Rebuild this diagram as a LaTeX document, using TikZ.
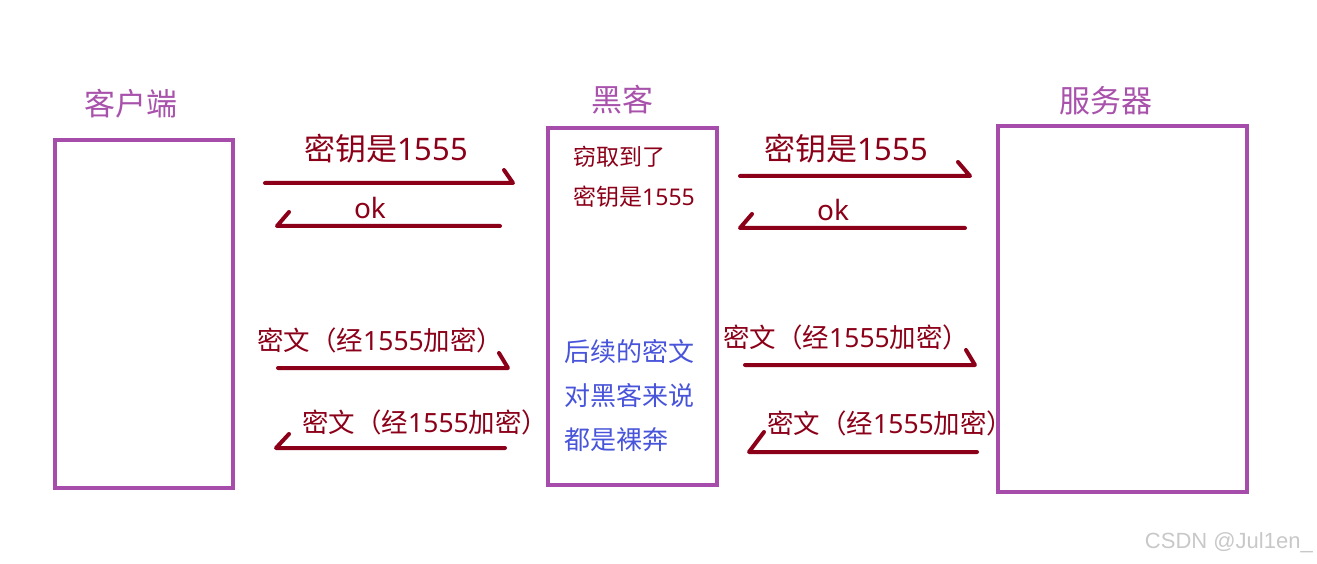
\documentclass[tikz,border=0pt]{standalone}
\usepackage{fontspec}
\setmainfont{Noto Sans CJK SC}
\newfontfamily\latfont{Noto Sans}
\newfontfamily\wmfont{Liberation Sans}
\newcommand\lat[1]{{\latfont #1}}
\definecolor{arrred}{RGB}{139,0,24}
\definecolor{boxpurple}{RGB}{166,76,170}
\definecolor{lblpurple}{RGB}{168,82,172}
\definecolor{txtblue}{RGB}{72,84,218}
\definecolor{wmgrey}{RGB}{200,200,200}
\tikzset{
  pbox/.style={draw=boxpurple, line width=4pt},
  lbl/.style={text=lblpurple, font=\fontsize{31}{36}\selectfont, inner sep=0pt},
  msg/.style={text=arrred, font=\fontsize{#1}{#1}\selectfont, inner sep=0pt},
  msg/.default=26.5,
  harrow/.style={draw=arrred, line width=4pt, line cap=round, line join=round},
  blu/.style={text=txtblue, font=\fontsize{26}{30}\selectfont, inner sep=0pt, anchor=west}
}
\begin{document}
\begin{tikzpicture}[x=1pt,y=-1pt]
\useasboundingbox (0,0) rectangle (1317,564);
% boxes
\draw[pbox] (55,140) rectangle (233,488);
\draw[pbox] (548,128) rectangle (717,485);
\draw[pbox] (998,126) rectangle (1247,492);
% titles
\node[lbl] (tc) at (131,104) {客户端};
\node[lbl] (th) at (622,100) {黑客};
\node[lbl] (ts) at (1106,101) {服务器};
% arrow coordinates
\coordinate (a1s) at (265,183); \coordinate (a1e) at (513,183); \coordinate (a1b) at (504,170);
\coordinate (a2s) at (500,226); \coordinate (a2e) at (277,226); \coordinate (a2b) at (289,212);
\coordinate (a3s) at (278,368); \coordinate (a3e) at (508,368); \coordinate (a3b) at (499,353);
\coordinate (a4s) at (505,448); \coordinate (a4e) at (276,448); \coordinate (a4b) at (289,434);
\coordinate (b1s) at (740,176); \coordinate (b1e) at (970,176); \coordinate (b1b) at (958,162);
\coordinate (b2s) at (965,228); \coordinate (b2e) at (740,228); \coordinate (b2b) at (752,214);
\coordinate (b3s) at (745,365); \coordinate (b3e) at (975,365); \coordinate (b3b) at (966,350);
\coordinate (b4s) at (977,452); \coordinate (b4e) at (749,452); \coordinate (b4b) at (764,432);
\draw[harrow] (a1s) -- (a1e) -- (a1b);
\draw[harrow] (a2s) -- (a2e) -- (a2b);
\draw[harrow] (a3s) -- (a3e) -- (a3b);
\draw[harrow] (a4s) -- (a4e) -- (a4b);
\draw[harrow] (b1s) -- (b1e) -- (b1b);
\draw[harrow] (b2s) -- (b2e) -- (b2b);
\draw[harrow] (b3s) -- (b3e) -- (b3b);
\draw[harrow] (b4s) -- (b4e) -- (b4b);
% messages
\node[msg=31] (m1) at (386,149) {密钥是\lat{1555}};
\node[msg=28] (m2) at (370,208) {\lat{ok}};
\node[msg, anchor=west] (m3) at (257,340) {密文（经\lat{1555}加密）};
\node[msg, anchor=west] (m4) at (302,422) {密文（经\lat{1555}加密）};
\node[msg=31] (n1) at (846,149) {密钥是\lat{1555}};
\node[msg=28] (n2) at (833,210) {\lat{ok}};
\node[msg, anchor=west] (n3) at (723,337) {密文（经\lat{1555}加密）};
\node[msg, anchor=west] (n4) at (767,423) {密文（经\lat{1555}加密）};
% hacker inner text
\node[msg=23, anchor=west] (h1) at (573,157) {窃取到了};
\node[msg=23, anchor=west] (h2) at (573,197) {密钥是\lat{1555}};
\node[blu] (h3) at (564,352) {后续的密文};
\node[blu] (h4) at (564,396) {对黑客来说};
\node[blu] (h5) at (564,440) {都是裸奔};
% watermark
\node[text=wmgrey, font=\wmfont\fontsize{22}{24}\selectfont, inner sep=0pt, anchor=east] (wm) at (1313,543) {CSDN @Jul1en\_};
\end{tikzpicture}
\end{document}
